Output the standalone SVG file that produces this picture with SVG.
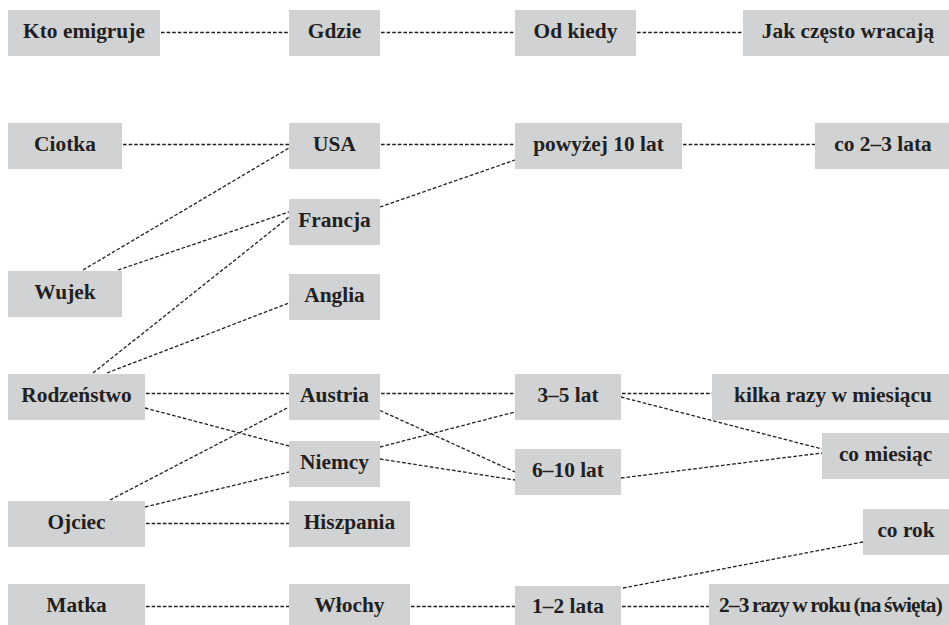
<svg xmlns="http://www.w3.org/2000/svg" width="949" height="625" viewBox="0 0 949 625">
<style>
.b{fill:#d1d2d4}
.t{font-family:"Liberation Serif","Times New Roman",serif;font-weight:bold;font-size:21.4px;fill:#231f20;text-anchor:middle}
.c line{stroke:#231f20;stroke-width:1.3;stroke-dasharray:3.6 2;fill:none}
</style>
<rect width="949" height="625" fill="#ffffff"/>
<g id="connectors" class="c">
<line x1="161" y1="32.5" x2="289" y2="32.5"/>
<line x1="381" y1="32.5" x2="515" y2="32.5"/>
<line x1="637" y1="32.5" x2="743" y2="32.5"/>
<line x1="123" y1="144.5" x2="289" y2="144.5"/>
<line x1="381" y1="144.5" x2="515" y2="144.5"/>
<line x1="683" y1="144.5" x2="815" y2="144.5"/>
<line x1="83" y1="270" x2="289" y2="148"/>
<line x1="118" y1="270" x2="289" y2="212"/>
<line x1="93" y1="373" x2="289" y2="217"/>
<line x1="107" y1="373" x2="289" y2="303"/>
<line x1="380" y1="207" x2="515" y2="160"/>
<line x1="146" y1="393.5" x2="289" y2="393.5"/>
<line x1="145" y1="408" x2="289" y2="446"/>
<line x1="110" y1="500" x2="289" y2="407"/>
<line x1="145" y1="507" x2="289" y2="472"/>
<line x1="146" y1="523.5" x2="289" y2="523.5"/>
<line x1="381" y1="393.5" x2="515" y2="393.5"/>
<line x1="380" y1="410.5" x2="515" y2="472"/>
<line x1="380" y1="447" x2="515" y2="412"/>
<line x1="380" y1="459" x2="515" y2="480"/>
<line x1="622" y1="393.5" x2="712" y2="393.5"/>
<line x1="621" y1="397" x2="822" y2="449"/>
<line x1="621" y1="478" x2="822" y2="453"/>
<line x1="623" y1="588" x2="863" y2="542"/>
<line x1="146" y1="606.5" x2="289" y2="606.5"/>
<line x1="411" y1="606.5" x2="515" y2="606.5"/>
<line x1="622" y1="606.5" x2="709" y2="606.5"/>
</g>
<g id="n-kto"><rect class="b" x="8" y="10" width="152" height="46"/><text class="t" x="84" y="37.7">Kto emigruje</text></g>
<g id="n-gdzie"><rect class="b" x="289" y="10" width="91" height="46"/><text class="t" x="334.5" y="37.7">Gdzie</text></g>
<g id="n-odkiedy"><rect class="b" x="515" y="10" width="121" height="46"/><text class="t" x="575.5" y="37.7">Od kiedy</text></g>
<g id="n-jak"><rect class="b" x="743" y="10" width="210" height="46"/><text class="t" x="848" y="37.7">Jak często wracają</text></g>
<g id="n-ciotka"><rect class="b" x="8" y="123" width="114" height="46"/><text class="t" x="65" y="150.7">Ciotka</text></g>
<g id="n-usa"><rect class="b" x="289" y="123" width="91" height="46"/><text class="t" x="334.5" y="150.7">USA</text></g>
<g id="n-pow10"><rect class="b" x="515" y="123" width="167" height="46"/><text class="t" x="598.5" y="150.7">powyżej 10 lat</text></g>
<g id="n-co23"><rect class="b" x="815" y="123" width="138" height="46"/><text class="t" x="883" y="150.7">co 2–3 lata</text></g>
<g id="n-francja"><rect class="b" x="289" y="199" width="91" height="46"/><text class="t" x="334.5" y="226.7">Francja</text></g>
<g id="n-wujek"><rect class="b" x="8" y="271" width="114" height="46"/><text class="t" x="65" y="298.7">Wujek</text></g>
<g id="n-anglia"><rect class="b" x="289" y="274" width="91" height="46"/><text class="t" x="334.5" y="301.7">Anglia</text></g>
<g id="n-rodz"><rect class="b" x="8" y="374" width="137" height="46"/><text class="t" x="76.5" y="401.7">Rodzeństwo</text></g>
<g id="n-austria"><rect class="b" x="289" y="374" width="91" height="46"/><text class="t" x="334.5" y="401.7">Austria</text></g>
<g id="n-35"><rect class="b" x="515" y="374" width="106" height="46"/><text class="t" x="568" y="401.7">3–5 lat</text></g>
<g id="n-kilka"><rect class="b" x="712" y="374" width="241" height="46"/><text class="t" x="833" y="401.7">kilka razy w miesiącu</text></g>
<g id="n-comies"><rect class="b" x="822" y="433" width="131" height="46"/><text class="t" x="885.5" y="460.7">co miesiąc</text></g>
<g id="n-niemcy"><rect class="b" x="289" y="441" width="91" height="46"/><text class="t" x="334.5" y="468.7">Niemcy</text></g>
<g id="n-610"><rect class="b" x="515" y="449" width="106" height="46"/><text class="t" x="568" y="476.7">6–10 lat</text></g>
<g id="n-ojciec"><rect class="b" x="8" y="501" width="137" height="46"/><text class="t" x="76.5" y="528.7">Ojciec</text></g>
<g id="n-hiszp"><rect class="b" x="289" y="501" width="121" height="46"/><text class="t" x="349.5" y="528.7">Hiszpania</text></g>
<g id="n-corok"><rect class="b" x="863" y="509" width="90" height="46"/><text class="t" x="906" y="536.7">co rok</text></g>
<g id="n-matka"><rect class="b" x="8" y="584" width="137" height="46"/><text class="t" x="76.5" y="611.7">Matka</text></g>
<g id="n-wlochy"><rect class="b" x="289" y="584" width="121" height="46"/><text class="t" x="349.5" y="611.7">Włochy</text></g>
<g id="n-12"><rect class="b" x="515" y="586" width="106" height="46"/><text class="t" x="568" y="612.7">1–2 lata</text></g>
<g id="n-23razy"><rect class="b" x="709" y="584" width="244" height="46"/><text class="t" x="830.5" y="611.7" style="letter-spacing:-0.9px;word-spacing:-1px">2–3 razy w roku (na święta)</text></g>
</svg>
